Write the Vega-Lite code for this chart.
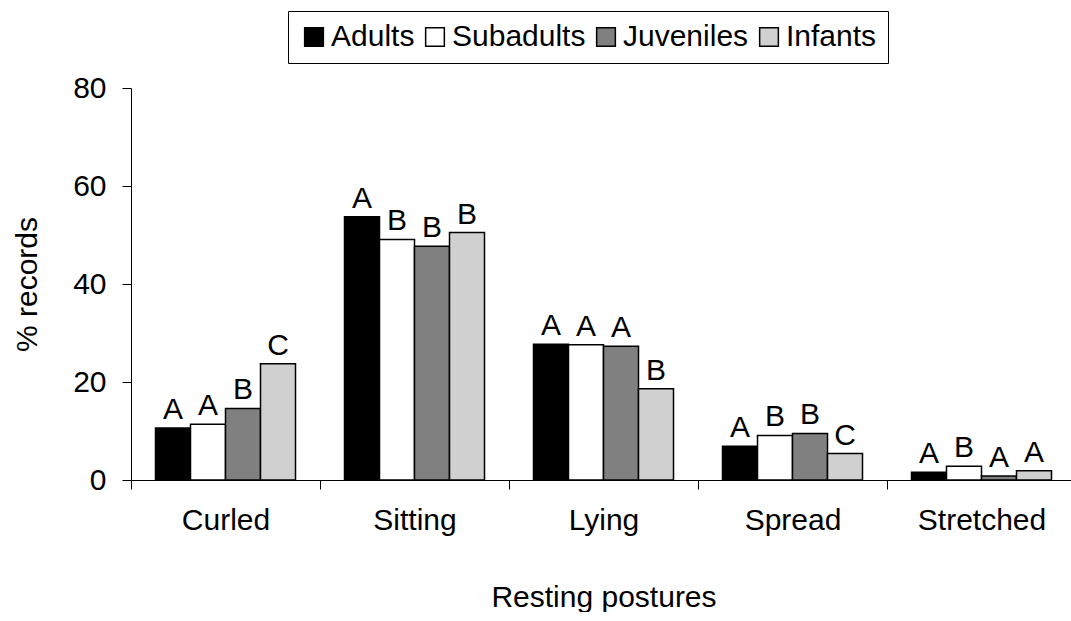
{
  "$schema": "https://vega.github.io/schema/vega-lite/v6.json",
  "width": 945,
  "height": 392,
  "padding": {"left": 12, "top": 10, "right": 0, "bottom": 0},
  "background": "white",
  "config": {
    "view": {"stroke": null},
    "font": "Liberation Sans",
    "axis": {
      "domainColor": "black",
      "tickColor": "black",
      "labelColor": "black",
      "titleColor": "black",
      "labelFontSize": 30,
      "titleFontSize": 30,
      "titleFontWeight": "normal",
      "labelFont": "Liberation Sans",
      "titleFont": "Liberation Sans",
      "tickSize": 9,
      "grid": false
    },
    "legend": {
      "orient": "none",
      "legendX": 157,
      "legendY": -77,
      "direction": "horizontal",
      "strokeColor": "black",
      "fillColor": "white",
      "padding": 11,
      "symbolType": "square",
      "symbolSize": 350,
      "symbolStrokeColor": "black",
      "symbolStrokeWidth": 1.5,
      "symbolOpacity": 1,
      "labelFontSize": 30,
      "labelColor": "black",
      "labelFont": "Liberation Sans",
      "labelOffset": 2,
      "columnPadding": 5
    }
  },
  "data": {
    "values": [
      {"posture": "Curled", "age": "Adults", "pct": 10.6, "letter": "A"},
      {"posture": "Curled", "age": "Subadults", "pct": 11.4, "letter": "A"},
      {"posture": "Curled", "age": "Juveniles", "pct": 14.6, "letter": "B"},
      {"posture": "Curled", "age": "Infants", "pct": 23.7, "letter": "C"},
      {"posture": "Sitting", "age": "Adults", "pct": 53.7, "letter": "A"},
      {"posture": "Sitting", "age": "Subadults", "pct": 49.1, "letter": "B"},
      {"posture": "Sitting", "age": "Juveniles", "pct": 47.7, "letter": "B"},
      {"posture": "Sitting", "age": "Infants", "pct": 50.5, "letter": "B"},
      {"posture": "Lying", "age": "Adults", "pct": 27.7, "letter": "A"},
      {"posture": "Lying", "age": "Subadults", "pct": 27.6, "letter": "A"},
      {"posture": "Lying", "age": "Juveniles", "pct": 27.3, "letter": "A"},
      {"posture": "Lying", "age": "Infants", "pct": 18.6, "letter": "B"},
      {"posture": "Spread", "age": "Adults", "pct": 6.9, "letter": "A"},
      {"posture": "Spread", "age": "Subadults", "pct": 9.1, "letter": "B"},
      {"posture": "Spread", "age": "Juveniles", "pct": 9.5, "letter": "B"},
      {"posture": "Spread", "age": "Infants", "pct": 5.4, "letter": "C"},
      {"posture": "Stretched", "age": "Adults", "pct": 1.6, "letter": "A"},
      {"posture": "Stretched", "age": "Subadults", "pct": 2.8, "letter": "B"},
      {"posture": "Stretched", "age": "Juveniles", "pct": 0.8, "letter": "A"},
      {"posture": "Stretched", "age": "Infants", "pct": 1.9, "letter": "A"}
    ]
  },
  "encoding": {
    "x": {
      "field": "posture",
      "type": "nominal",
      "sort": ["Curled", "Sitting", "Lying", "Spread", "Stretched"],
      "scale": {"paddingInner": 0, "paddingOuter": 0},
      "title": "Resting postures",
      "axis": {"labelAngle": 0, "tickBand": "extent", "labelPadding": 16, "titlePadding": 47}
    },
    "xOffset": {
      "field": "age",
      "sort": ["Adults", "Subadults", "Juveniles", "Infants"],
      "scale": {"paddingInner": 0, "paddingOuter": 0.7}
    },
    "y": {
      "field": "pct",
      "type": "quantitative",
      "scale": {"domain": [0, 80]},
      "title": "% records",
      "axis": {"values": [0, 20, 40, 60, 80], "labelPadding": 16, "titlePadding": 30}
    }
  },
  "layer": [
    {
      "mark": {"type": "bar", "stroke": "black", "strokeWidth": 1.5},
      "encoding": {
        "fill": {
          "field": "age",
          "type": "nominal",
          "scale": {
            "domain": ["Adults", "Subadults", "Juveniles", "Infants"],
            "range": ["black", "white", "#808080", "#d0d0d0"]
          },
          "legend": {"title": null}
        }
      }
    },
    {
      "mark": {"type": "text", "dy": -9, "baseline": "alphabetic", "fontSize": 30, "color": "black", "font": "Liberation Sans"},
      "encoding": {"text": {"field": "letter"}}
    }
  ]
}
